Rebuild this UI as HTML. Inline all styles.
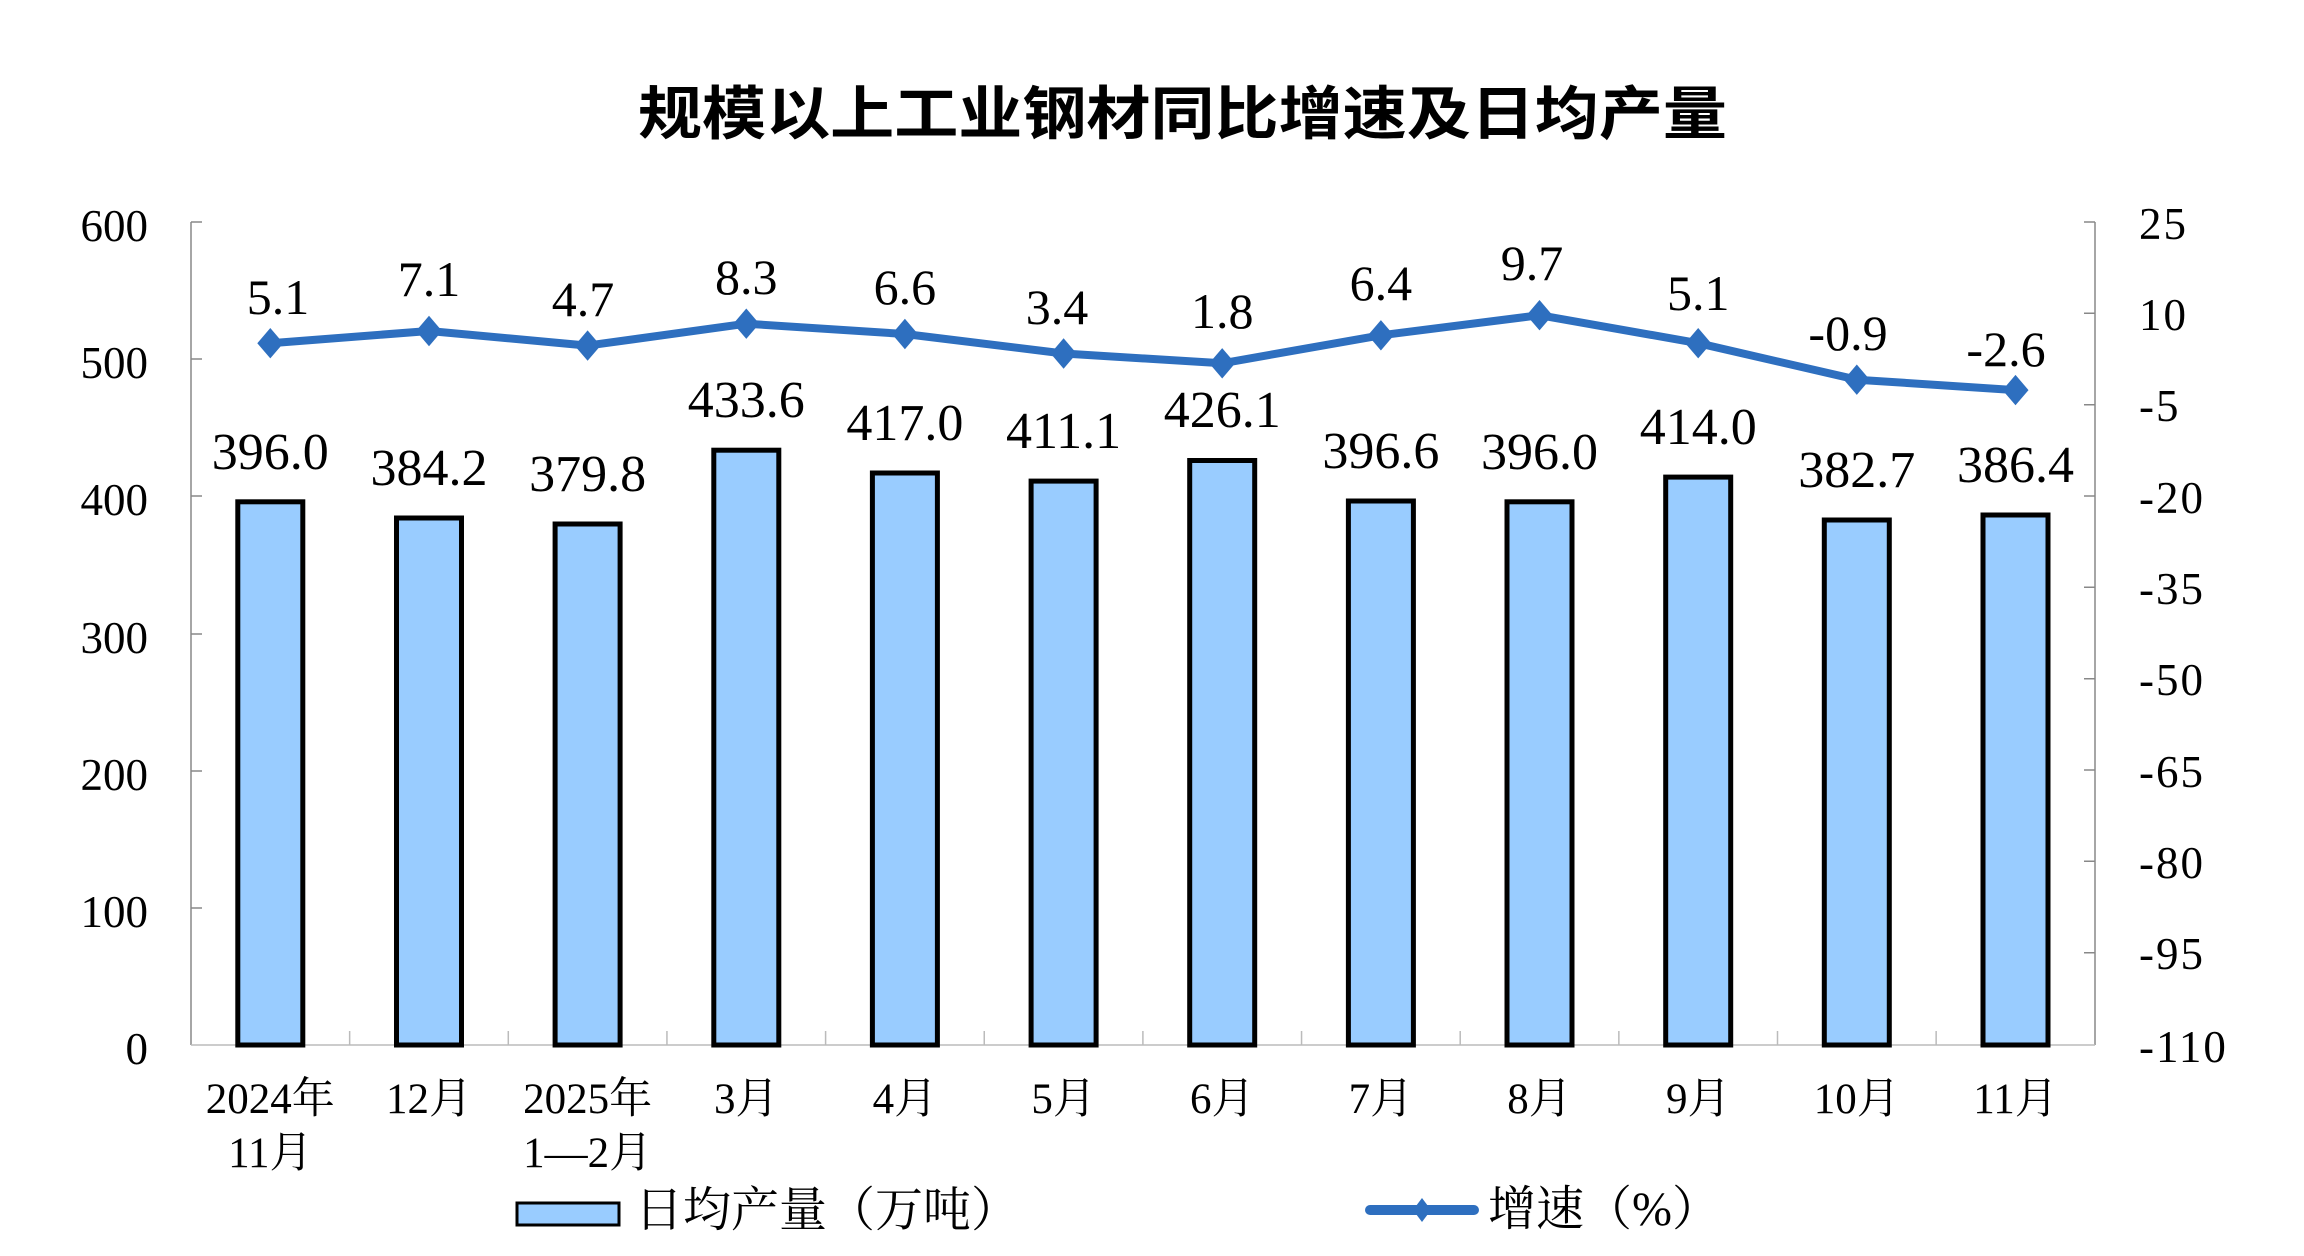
<!DOCTYPE html>
<html><head><meta charset="utf-8"><style>
html,body{margin:0;padding:0;background:#fff}
svg{display:block}
.s{font-family:"Liberation Serif","Noto Serif CJK SC",serif;fill:#000}
</style></head><body>
<svg width="2304" height="1256" viewBox="0 0 2304 1256" xmlns="http://www.w3.org/2000/svg">
<text x="638" y="134" textLength="1089" lengthAdjust="spacingAndGlyphs" style="font-family:'Noto Sans CJK SC','WenQuanYi Zen Hei',sans-serif;font-weight:bold;font-size:58px">规模以上工业钢材同比增速及日均产量</text>
<g stroke="#888" stroke-width="1.5" fill="none">
<line x1="191" y1="222" x2="191" y2="1045"/>
<line x1="2095" y1="222" x2="2095" y2="1045"/>
<path d="M191 222h11M191 359h11M191 496h11M191 634h11M191 771h11M191 908h11"/>
<path d="M2084 222h11M2084 313.3h11M2084 404.7h11M2084 496h11M2084 587.3h11M2084 678.7h11M2084 770h11M2084 861.3h11M2084 952.7h11"/>
</g>
<g stroke="#bbb" stroke-width="1.5">
<line x1="191" y1="1045" x2="2095" y2="1045"/>
<path d="M349.65 1045v-14M508.3 1045v-14M666.95 1045v-14M825.6 1045v-14M984.25 1045v-14M1142.9 1045v-14M1301.55 1045v-14M1460.2 1045v-14M1618.85 1045v-14M1777.5 1045v-14M1936.15 1045v-14"/>
</g>
<g class="s" font-size="45" text-anchor="end">
<text x="148" y="241">600</text><text x="148" y="378">500</text><text x="148" y="515">400</text><text x="148" y="653">300</text><text x="148" y="790">200</text><text x="148" y="927">100</text><text x="148" y="1064">0</text>
</g>
<g class="s" font-size="45" letter-spacing="2">
<text x="2139" y="239">25</text><text x="2139" y="330">10</text><text x="2139" y="421">-5</text><text x="2139" y="513">-20</text><text x="2139" y="604">-35</text><text x="2139" y="695">-50</text><text x="2139" y="787">-65</text><text x="2139" y="878">-80</text><text x="2139" y="969">-95</text><text x="2139" y="1062">-110</text>
</g>
<g fill="#99CCFF" stroke="#000" stroke-width="5">
<rect x="237.8" y="501.8" width="65" height="543.2"/>
<rect x="396.5" y="518" width="65" height="527"/>
<rect x="555.1" y="524" width="65" height="521"/>
<rect x="713.8" y="450.2" width="65" height="594.8"/>
<rect x="872.4" y="473" width="65" height="572"/>
<rect x="1031.1" y="481.1" width="65" height="563.9"/>
<rect x="1189.7" y="460.5" width="65" height="584.5"/>
<rect x="1348.4" y="501" width="65" height="544"/>
<rect x="1507" y="501.8" width="65" height="543.2"/>
<rect x="1665.7" y="477.1" width="65" height="567.9"/>
<rect x="1824.3" y="520" width="65" height="525"/>
<rect x="1983" y="515" width="65" height="530"/>
</g>
<g class="s" font-size="52" text-anchor="middle">
<text x="270.3" y="469">396.0</text><text x="429" y="485">384.2</text><text x="587.6" y="491">379.8</text><text x="746.3" y="417">433.6</text><text x="904.9" y="440">417.0</text><text x="1063.6" y="448">411.1</text><text x="1222.2" y="427">426.1</text><text x="1380.9" y="468">396.6</text><text x="1539.5" y="469">396.0</text><text x="1698.2" y="444">414.0</text><text x="1856.8" y="487">382.7</text><text x="2015.5" y="482">386.4</text>
</g>
<polyline fill="none" stroke="#2E6FBF" stroke-width="8" stroke-linejoin="round" points="270.3,343.2 429,331 587.6,345.6 746.3,323.7 904.9,334 1063.6,353.5 1222.2,363.3 1380.9,335.3 1539.5,315.2 1698.2,343.2 1856.8,379.7 2015.5,390.1"/>
<g fill="#2E6FBF">
<path d="M270.3 328l13 15.2-13 15.2-13-15.2z"/>
<path d="M429 315.8l13 15.2-13 15.2-13-15.2z"/>
<path d="M587.6 330.4l13 15.2-13 15.2-13-15.2z"/>
<path d="M746.3 308.5l13 15.2-13 15.2-13-15.2z"/>
<path d="M904.9 318.8l13 15.2-13 15.2-13-15.2z"/>
<path d="M1063.6 338.3l13 15.2-13 15.2-13-15.2z"/>
<path d="M1222.2 348.1l13 15.2-13 15.2-13-15.2z"/>
<path d="M1380.9 320.1l13 15.2-13 15.2-13-15.2z"/>
<path d="M1539.5 300l13 15.2-13 15.2-13-15.2z"/>
<path d="M1698.2 328l13 15.2-13 15.2-13-15.2z"/>
<path d="M1856.8 364.5l13 15.2-13 15.2-13-15.2z"/>
<path d="M2015.5 374.9l13 15.2-13 15.2-13-15.2z"/>
</g>
<g class="s" font-size="50" text-anchor="middle">
<text x="278" y="314">5.1</text><text x="429" y="296">7.1</text><text x="583" y="316">4.7</text><text x="746.3" y="294">8.3</text><text x="904.9" y="304">6.6</text><text x="1057" y="324">3.4</text><text x="1222.2" y="328">1.8</text><text x="1380.9" y="300">6.4</text><text x="1532" y="280">9.7</text><text x="1698.2" y="310">5.1</text><text x="1848" y="350">-0.9</text><text x="2006" y="366">-2.6</text>
</g>
<g class="s" font-size="43" text-anchor="middle">
<text x="270.3" y="1113">2024年</text><text x="270.3" y="1167">11月</text>
<text x="429" y="1113">12月</text>
<text x="587.6" y="1113">2025年</text><text x="587.6" y="1167">1—2月</text>
<text x="746.3" y="1113">3月</text><text x="904.9" y="1113">4月</text><text x="1063.6" y="1113">5月</text><text x="1222.2" y="1113">6月</text><text x="1380.9" y="1113">7月</text><text x="1539.5" y="1113">8月</text><text x="1698.2" y="1113">9月</text><text x="1856.8" y="1113">10月</text><text x="2015.5" y="1113">11月</text>
</g>
<rect x="517" y="1203" width="102" height="22" fill="#99CCFF" stroke="#000" stroke-width="3"/>
<text class="s" x="635" y="1226" font-size="48">日均产量（万吨）</text>
<line x1="1370" y1="1210" x2="1474" y2="1210" stroke="#2E6FBF" stroke-width="10" stroke-linecap="round"/>
<path d="M1422 1198l9 12-9 12-9-12z" fill="#2E6FBF"/>
<text class="s" x="1488" y="1225" font-size="48">增速（%）</text>
</svg>
</body></html>
